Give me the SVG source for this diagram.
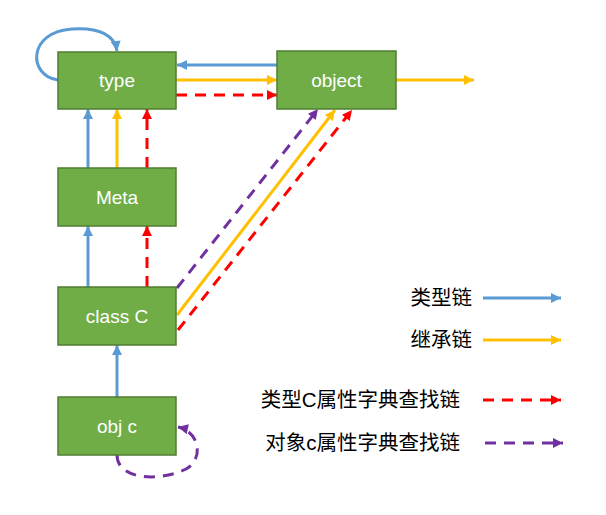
<svg xmlns="http://www.w3.org/2000/svg" width="606" height="515" viewBox="0 0 606 515">
<style>
.node rect{fill:#70AD47;stroke:#507E32;stroke-width:1.5}
.node text{fill:#FFFFFF;font-family:"Liberation Sans",Arial,sans-serif;font-size:19px;text-anchor:middle}
.c{fill:none;stroke-width:3}
.blue{stroke:#5B9BD5}
.yel{stroke:#FFC000}
.red{stroke:#FF0000;stroke-dasharray:11 8}
.pur{stroke:#7030A0;stroke-dasharray:11 8}
.lg{font-family:"Liberation Sans","Noto Sans CJK SC",sans-serif;font-size:20.5px;fill:#000000;text-anchor:end}
</style>
<defs>
<marker id="ab" viewBox="0 0 10 10" refX="10" refY="5" markerWidth="11" markerHeight="10" markerUnits="userSpaceOnUse" orient="auto"><path d="M0,0L10,5L0,10z" fill="#5B9BD5"/></marker>
<marker id="ay" viewBox="0 0 10 10" refX="10" refY="5" markerWidth="11" markerHeight="10" markerUnits="userSpaceOnUse" orient="auto"><path d="M0,0L10,5L0,10z" fill="#FFC000"/></marker>
<marker id="ar" viewBox="0 0 10 10" refX="10" refY="5" markerWidth="11" markerHeight="10" markerUnits="userSpaceOnUse" orient="auto"><path d="M0,0L10,5L0,10z" fill="#FF0000"/></marker>
<marker id="ap" viewBox="0 0 10 10" refX="10" refY="5" markerWidth="11" markerHeight="10" markerUnits="userSpaceOnUse" orient="auto"><path d="M0,0L10,5L0,10z" fill="#7030A0"/></marker>
</defs>
<g id="connectors">
<path class="c blue" d="M58,80 C28,76 27,32 72,29 C100,27 115,36 117,51" marker-end="url(#ab)"/>
<line class="c blue" x1="277" y1="65" x2="177" y2="65" marker-end="url(#ab)"/>
<line class="c yel" x1="176" y1="80" x2="277" y2="80" marker-end="url(#ay)"/>
<line class="c red" x1="176" y1="95" x2="277" y2="95" marker-end="url(#ar)"/>
<line class="c yel" x1="396" y1="80" x2="474" y2="80" marker-end="url(#ay)"/>
<line class="c blue" x1="88" y1="168" x2="88" y2="109" marker-end="url(#ab)"/>
<line class="c yel" x1="117" y1="168" x2="117" y2="109" marker-end="url(#ay)"/>
<line class="c red" x1="147" y1="168" x2="147" y2="109" marker-end="url(#ar)"/>
<line class="c blue" x1="88" y1="287" x2="88" y2="226" marker-end="url(#ab)"/>
<line class="c red" x1="147" y1="287" x2="147" y2="226" marker-end="url(#ar)"/>
<line class="c blue" x1="117" y1="397" x2="117" y2="345" marker-end="url(#ab)"/>
<line class="c pur" x1="177" y1="288" x2="318" y2="109" marker-end="url(#ap)"/>
<line class="c yel" x1="177" y1="315" x2="335" y2="110" marker-end="url(#ay)"/>
<line class="c red" x1="178" y1="330" x2="352" y2="110" marker-end="url(#ar)"/>
<path class="c pur" d="M117,455 C117,480 160,482 186,469 C204,459 200,432 178,427" marker-end="url(#ap)"/>
<line class="c blue" x1="483" y1="298" x2="561" y2="298" marker-end="url(#ab)"/>
<line class="c yel" x1="483" y1="340" x2="561" y2="340" marker-end="url(#ay)"/>
<line class="c red" x1="483" y1="400" x2="561" y2="400" marker-end="url(#ar)"/>
<line class="c pur" x1="485" y1="443" x2="563" y2="443" marker-end="url(#ap)"/>
</g>
<g id="node-type" class="node"><rect x="58" y="52" width="118" height="57"/><text x="117" y="87">type</text></g>
<g id="node-object" class="node"><rect x="277" y="51" width="119" height="58"/><text x="336.5" y="87">object</text></g>
<g id="node-meta" class="node"><rect x="58" y="168" width="118" height="58"/><text x="117" y="204">Meta</text></g>
<g id="node-classC" class="node"><rect x="58" y="287" width="118" height="58"/><text x="117" y="323">class C</text></g>
<g id="node-objc" class="node"><rect x="58" y="397" width="118" height="58"/><text x="117" y="433">obj c</text></g>
<g id="legend">
<text class="lg" x="472" y="305">类型链</text>
<text class="lg" x="472" y="347">继承链</text>
<text class="lg" x="460" y="407">类型C属性字典查找链</text>
<text class="lg" x="460" y="450">对象c属性字典查找链</text>
</g>
</svg>
